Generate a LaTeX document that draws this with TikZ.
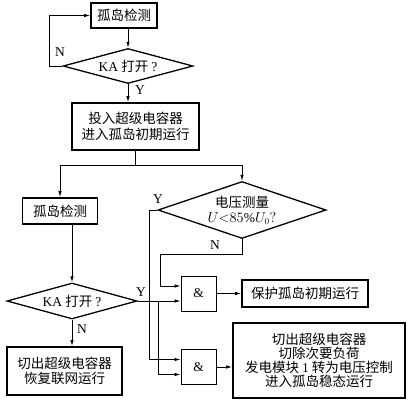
\documentclass[tikz,border=0pt]{standalone}
\usepackage{fontspec}
\setmainfont{Liberation Serif}
\newfontfamily\cjk{Noto Sans CJK SC}
\usetikzlibrary{shapes.geometric,arrows.meta}

% latin text inside the chinese nodes
\newcommand{\rmtxt}[1]{{\rmfamily #1}}

\begin{document}
\begin{tikzpicture}[x=1pt,y=-1pt,
  box/.style={draw,line width=1.6pt,inner sep=0pt,align=center,
    font=\cjk\fontsize{13.5}{14.5}\selectfont},
  cond/.style={draw,diamond,line width=1.3pt,inner sep=0pt,align=center,
    font=\cjk\fontsize{13.5}{15}\selectfont},
  gate/.style={draw,line width=0.8pt,minimum width=35pt,minimum height=35pt,
    font=\fontsize{13.5}{15}\selectfont},
  lbl/.style={font=\fontsize{13.5}{15}\selectfont},
  line/.style={line width=0.9pt},
  arr/.style={line,-{Latex[length=6pt,width=3.5pt]}}]

\useasboundingbox (0,0) rectangle (418,408);

% left column
\node[box,minimum width=66pt,minimum height=25pt] (det1) at (124,15.5) {孤岛检测};
\node[cond,minimum width=130pt,minimum height=35pt,aspect=3.7] (ka1) at (128,66)
  {\rmtxt{KA} 打开 \rmtxt{?}};
\node[box,minimum width=127pt,minimum height=47pt] (init) at (135.5,126.5)
  {投入超级电容器\\[2pt]进入孤岛初期运行};
\node[box,minimum width=75pt,minimum height=26pt] (det2) at (60,211) {孤岛检测};
\node[cond,minimum width=130pt,minimum height=36pt,aspect=3.6] (ka2) at (72,301)
  {\rmtxt{KA} 打开 \rmtxt{?}};
\node[box,minimum width=115pt,minimum height=48pt] (recon) at (64.5,371)
  {切出超级电容器\\恢复联网运行};

% right column
\node[cond,minimum width=168pt,minimum height=57pt,aspect=2.95] (volt) at (242,210)
  {电压测量\\ $U{<}85\%U_0?$};
\node[gate] (and1) at (198.5,293.5) {\&};
\node[gate] (and2) at (198.5,367) {\&};
\node[box,minimum width=126pt,minimum height=27pt] (prot) at (305,293.5) {保护孤岛初期运行};
\node[box,minimum width=172pt,minimum height=75pt,
  font=\cjk\fontsize{13.5}{14}\selectfont] (isl) at (319,360.5)
  {切出超级电容器\\切除次要负荷\\发电模块 \rmtxt{1} 转为电压控制\\进入孤岛稳态运行};

% branch labels
\foreach \nm/\x/\y/\t in {n1/60/52/N, y1/140/90/Y, y2/158/199/Y,
                          n2/215/245/N, y3/141/292/Y, n3/82/329/N}
  \node[lbl] (\nm) at (\x,\y) {\t};

% connectors
\draw[arr] (det1.south -| ka1.north) -- (ka1.north);
\draw[arr] (ka1.west) -- ++(-13,0) |- (det1.west);
\draw[arr] (ka1.south) -- (init.north -| ka1.south);

\path (init.south) ++(0,14.5) coordinate (fork);
\draw[line] (init.south) -- (fork);
\draw[arr] (fork) -| (det2.north);
\draw[arr] (fork) -| (volt.north);

\draw[arr] (det2.south -| ka2.north) -- (ka2.north);
\draw[arr] (ka2.south) -- (recon.north -| ka2.south);

% gate inputs
\draw[arr] (volt.south) -- ++(0,15) -| ([xshift=-20pt,yshift=7.5pt]and1.west)
  -- ([yshift=7.5pt]and1.west);
\draw[arr] (ka2.east) -- ([yshift=-7.5pt]and1.west);
\draw[arr] (volt.west) -- ++(-8,0) |- ([yshift=7.5pt]and2.west);
\coordinate (tap) at ([xshift=21pt]ka2.east);
\draw[arr] (tap) |- ([yshift=-7.5pt]and2.west);

% gate outputs
\draw[arr] (and1.east) -- (prot.west);
\draw[arr] (and2.east) -- (and2.east -| isl.west);
\end{tikzpicture}
\end{document}
